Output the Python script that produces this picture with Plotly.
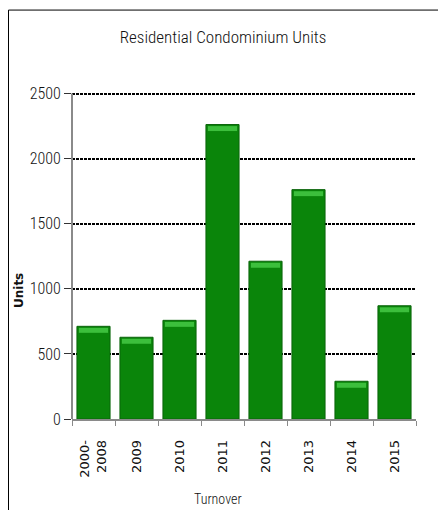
import plotly.graph_objects as go

categories = ["2000-<br>2008", "2009", "2010", "2011", "2012", "2013", "2014", "2015"]
units = [712, 628, 758, 2262, 1212, 1762, 290, 870]
y_ticks = [0, 500, 1000, 1500, 2000, 2500]

NARROW = "Liberation Sans Narrow, Roboto Condensed, Liberation Sans, sans-serif"

Y_MAX = 2512
fig = go.Figure()
fig.add_trace(go.Bar(
    x=categories, y=units, width=0.77,
    marker=dict(color="#0a850a", line=dict(color="#0a640a", width=1)),
    showlegend=False, hoverinfo="x+y",
))
# top bevel highlight of each bar (derived from the data values)
fig.add_trace(go.Bar(
    x=categories, y=[38] * len(units), base=[v - 50 for v in units], width=0.68,
    marker=dict(color="#3cbf3c", line=dict(width=0)),
    showlegend=False, hoverinfo="skip",
))

fig.update_layout(
    width=438, height=510,
    margin=dict(l=72, r=22, t=92.44, b=90.5),
    paper_bgcolor="white", plot_bgcolor="white",
    barmode="overlay",
    title=dict(text="Residential Condominium Units", x=223 / 438, xanchor="center",
               y=1 - 37 / 510, yanchor="middle",
               font=dict(family=NARROW, size=17, color="#111", weight=300)),
    font=dict(family=NARROW, color="#111"),
)
fig.update_xaxes(
    type="category", showgrid=False,
    showline=True, linecolor="#8a8a8a", linewidth=1.5,
    ticks="outside", ticklen=5, tickcolor="#8a8a8a", tickson="boundaries",
    tickangle=-90, ticklabelstandoff=14,
    tickfont=dict(family="DejaVu Sans", size=13, color="#111"),
)
fig.update_yaxes(
    range=[0, Y_MAX], tickvals=y_ticks,
    showgrid=True, gridcolor="#000", griddash="3px,1px", gridwidth=1.5,
    showline=False,
    ticks="outside", ticklen=7, tickcolor="#333",
    tickfont=dict(family=NARROW, size=16, color="#111", weight=300),
    zeroline=False,
)
# y-axis line from 0 to top tick
fig.add_shape(type="line", xref="paper", yref="y", x0=0, x1=0,
              y0=y_ticks[0], y1=y_ticks[-1], line=dict(color="#8a8a8a", width=2))
fig.add_annotation(text="Units", xref="paper", yref="paper",
                   x=(18.5 - 72) / 344, y=(419.5 - 291) / 327.06,
                   xanchor="center", yanchor="middle", textangle=-90, showarrow=False,
                   font=dict(family="DejaVu Sans", size=12, color="#111", weight="bold"))
fig.add_annotation(text="Turnover", xref="paper", yref="paper",
                   x=(218 - 72) / 344, y=(419.5 - 500) / 327.06,
                   xanchor="center", yanchor="middle", showarrow=False,
                   font=dict(family=NARROW, size=14, color="#111", weight=300))
# frame lines (top and left)
fig.add_shape(type="line", xref="paper", yref="paper",
              x0=(8.5 - 72) / 344, x1=(440 - 72) / 344,
              y0=(419.5 - 10.5) / 327.06, y1=(419.5 - 10.5) / 327.06,
              line=dict(color="#000", width=1))
fig.add_shape(type="line", xref="paper", yref="paper",
              x0=(8.5 - 72) / 344, x1=(8.5 - 72) / 344,
              y0=(419.5 - 10.5) / 327.06, y1=(419.5 - 512) / 327.06,
              line=dict(color="#000", width=1))

fig.write_html("out.html")
